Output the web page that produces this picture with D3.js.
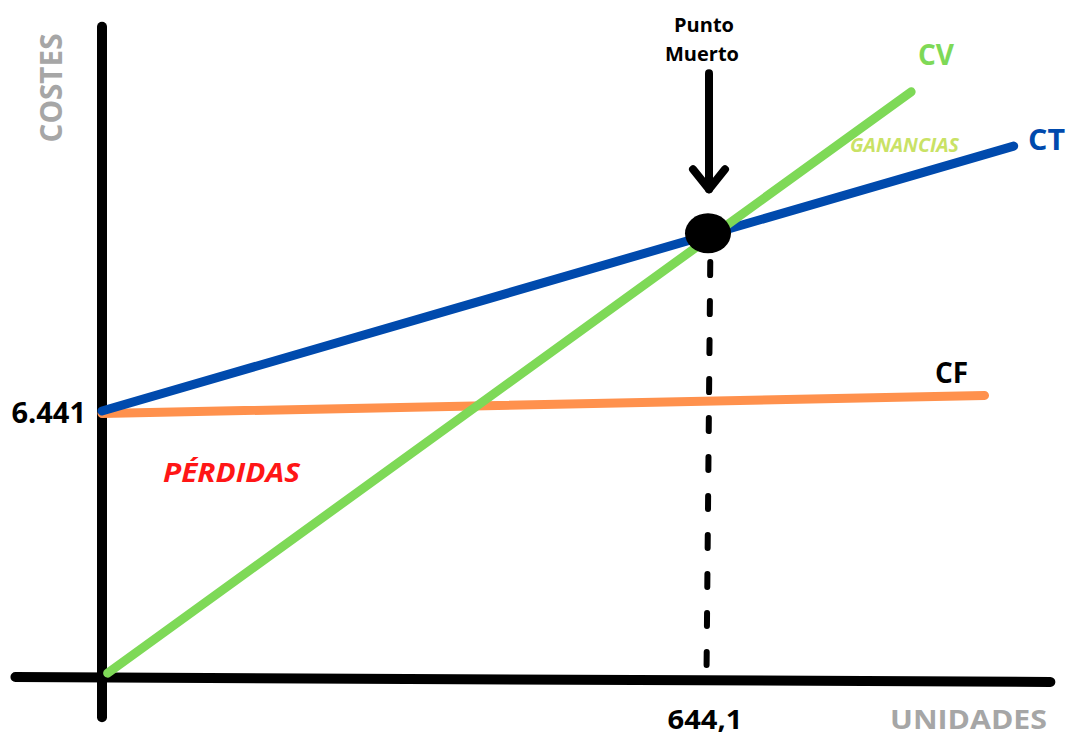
<!DOCTYPE html>
<html>
<head>
<meta charset="utf-8">
<script src="https://cdn.jsdelivr.net/npm/d3@7"></script>
<style>
  html, body { margin: 0; padding: 0; background: #fff; }
  svg text { font-family: "Open Sans", sans-serif; font-weight: 700; }
</style>
</head>
<body>
<div id="chart"></div>
<script>
// DATA (units vs costs)

// tick values shown on the axes
let x_ticks = [644.1]
let y_ticks = [6441]
let x_tick_labels = ["644,1"]
let y_tick_labels = ["6.441"]

// lines: [units, cost]
let ct_line = [[0, 6441], [969, 12880]]
let cv_line = [[6, 70], [860, 14200]]
let cf_line = [[0, 6380], [938, 6820]]

// break even point
let break_even = [644.1, 10760]
let break_even_drop = [[646.5, 10060], [642.5, 24]]

// axis lines (the hand drawn axes are slightly tilted)
let y_axis_line = [[0, -1000], [0, 15780]]
let x_axis_line = [[-92, -24], [1008, -146]]

// CHART AREA
let width = 1067,
    height = 736;

let svg = d3.select("#chart").append("svg")
    .attr("width", width)
    .attr("height", height)

// SCALES
let x_scale = d3.scaleLinear()
    .domain([0, 644.1])
    .range([102, 708]);

let y_scale = d3.scaleLinear()
    .domain([0, 6441])
    .range([676, 411]);

let line = d3.line()
    .x(d => x_scale(d[0]))
    .y(d => y_scale(d[1]))

// AXES
svg.append("path")
    .attr("d", line(y_axis_line))
    .attr("stroke", "#000")
    .attr("stroke-width", 10)
    .attr("stroke-linecap", "round")
    .attr("fill", "none")

svg.append("path")
    .attr("d", line(x_axis_line))
    .attr("stroke", "#000")
    .attr("stroke-width", 10)
    .attr("stroke-linecap", "round")
    .attr("fill", "none")

// dashed drop line from the break even point
svg.append("path")
    .attr("d", line(break_even_drop))
    .attr("stroke", "#000")
    .attr("stroke-width", 6)
    .attr("stroke-linecap", "round")
    .attr("stroke-dasharray", "13 26")
    .attr("fill", "none")

// COST LINES
let series = [
    {name: "CF", values: cf_line, color: "#ff914d"},
    {name: "CT", values: ct_line, color: "#004aad"},
    {name: "CV", values: cv_line, color: "#7ed957"}
]

svg.selectAll(".cost-line")
    .data(series)
    .enter()
    .append("path")
    .attr("class", "cost-line")
    .attr("d", d => line(d.values))
    .attr("stroke", d => d.color)
    .attr("stroke-width", 9)
    .attr("stroke-linecap", "round")
    .attr("fill", "none")

// break even marker
let bx = x_scale(break_even[0]),
    by = y_scale(break_even[1]);

svg.append("ellipse")
    .attr("cx", bx)
    .attr("cy", by)
    .attr("rx", 23)
    .attr("ry", 20)
    .attr("fill", "#000")

// arrow pointing at it
svg.append("path")
    .attr("d", "M" + (bx + 1) + "," + (by - 160) + "V" + (by - 44))
    .attr("stroke", "#000")
    .attr("stroke-width", 8)
    .attr("stroke-linecap", "round")
    .attr("fill", "none")

svg.append("path")
    .attr("d", "M" + (bx - 15) + "," + (by - 64) + "L" + (bx + 1) + "," + (by - 44) + "L" + (bx + 17) + "," + (by - 64))
    .attr("stroke", "#000")
    .attr("stroke-width", 8)
    .attr("stroke-linecap", "round")
    .attr("stroke-linejoin", "round")
    .attr("fill", "none")

// TEXTS
svg.append("text")
    .attr("x", bx - 4).attr("y", 32)
    .attr("text-anchor", "middle")
    .attr("font-size", 20)
    .text("Punto")

svg.append("text")
    .attr("x", bx - 6).attr("y", 61)
    .attr("text-anchor", "middle")
    .attr("font-size", 20)
    .text("Muerto")

// tick labels
svg.selectAll(".x-tick")
    .data(x_ticks)
    .enter()
    .append("text")
    .attr("class", "x-tick")
    .attr("x", d => x_scale(d) - 3)
    .attr("y", 729)
    .attr("text-anchor", "middle")
    .attr("font-size", 27)
    .attr("textLength", 75)
    .attr("lengthAdjust", "spacingAndGlyphs")
    .text((d, i) => x_tick_labels[i])

svg.selectAll(".y-tick")
    .data(y_ticks)
    .enter()
    .append("text")
    .attr("class", "y-tick")
    .attr("x", 86)
    .attr("y", d => y_scale(d) + 12)
    .attr("text-anchor", "end")
    .attr("font-size", 29)
    .text((d, i) => y_tick_labels[i])

// axis titles
svg.append("text")
    .attr("x", 1047).attr("y", 729)
    .attr("text-anchor", "end")
    .attr("font-size", 26)
    .attr("textLength", 157)
    .attr("lengthAdjust", "spacingAndGlyphs")
    .attr("fill", "#a6a6a6")
    .text("UNIDADES")

svg.append("text")
    .attr("transform", "translate(62,88) rotate(-90)")
    .attr("text-anchor", "middle")
    .attr("font-size", 30)
    .attr("textLength", 109)
    .attr("lengthAdjust", "spacingAndGlyphs")
    .attr("fill", "#a6a6a6")
    .text("COSTES")

// line labels
svg.append("text")
    .attr("x", 918).attr("y", 65)
    .attr("font-size", 28)
    .attr("fill", "#7ed957")
    .text("CV")

svg.append("text")
    .attr("x", 1028).attr("y", 150)
    .attr("font-size", 28)
    .attr("textLength", 37)
    .attr("lengthAdjust", "spacingAndGlyphs")
    .attr("fill", "#004aad")
    .text("CT")

svg.append("text")
    .attr("x", 935).attr("y", 383)
    .attr("font-size", 28)
    .attr("fill", "#000")
    .text("CF")

// zones
svg.append("text")
    .attr("x", 850).attr("y", 152)
    .attr("font-size", 19)
    .attr("font-style", "italic")
    .attr("textLength", 109)
    .attr("lengthAdjust", "spacingAndGlyphs")
    .attr("fill", "#c9e265")
    .text("GANANCIAS")

svg.append("text")
    .attr("x", 163).attr("y", 482)
    .attr("font-size", 26)
    .attr("font-style", "italic")
    .attr("textLength", 137)
    .attr("lengthAdjust", "spacingAndGlyphs")
    .attr("fill", "#ff1616")
    .text("PÉRDIDAS")
</script>
</body>
</html>
